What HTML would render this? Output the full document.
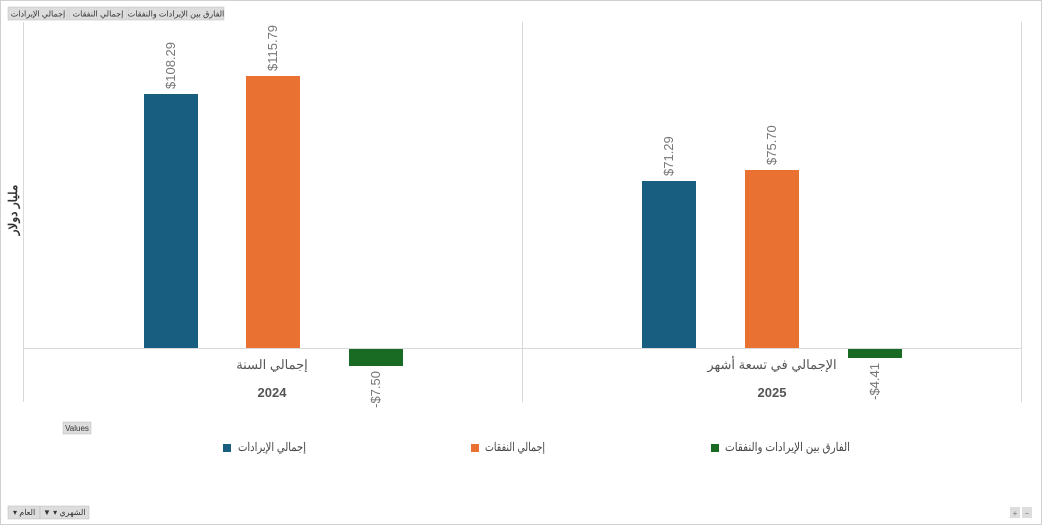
<!DOCTYPE html>
<html><head><meta charset="utf-8"><style>
body{margin:0;width:1042px;height:525px;background:#fff;font-family:"Liberation Sans","Noto Sans CJK SC",sans-serif;overflow:hidden}
</style></head><body>
<svg width="1042" height="525" xmlns="http://www.w3.org/2000/svg" font-family="Liberation Sans, Noto Sans CJK SC, sans-serif">
<rect x="0.5" y="0.5" width="1041" height="524" fill="#fff" stroke="#d0d0d0"/>
<g font-size="8" fill="#333">
<rect x="8" y="7" width="60" height="13" fill="#ddd" stroke="#bbb" stroke-width="0.5"/>
<text x="38" y="16.5" text-anchor="middle">إجمالي الإيرادات</text>
<rect x="69" y="7" width="58" height="13" fill="#ddd" stroke="#bbb" stroke-width="0.5"/>
<text x="98" y="16.5" text-anchor="middle">إجمالي النفقات</text>
<rect x="128" y="7" width="96" height="13" fill="#ddd" stroke="#bbb" stroke-width="0.5"/>
<text x="176" y="16.5" text-anchor="middle">الفارق بين الإيرادات والنفقات</text>
</g>
<line x1="23.5" y1="22" x2="23.5" y2="402" stroke="#d9d9d9"/>
<line x1="522.5" y1="22" x2="522.5" y2="402" stroke="#d9d9d9"/>
<line x1="1021.5" y1="22" x2="1021.5" y2="402" stroke="#d9d9d9"/>
<line x1="23" y1="348.5" x2="1021" y2="348.5" stroke="#d9d9d9"/>
<text transform="translate(17,210) rotate(-90)" font-size="12" font-weight="bold" fill="#333" text-anchor="middle">مليار دولار</text>
<rect x="144" y="94" width="54" height="254" fill="#175e80"/>
<rect x="246" y="76" width="54" height="272" fill="#e97132"/>
<rect x="349" y="349" width="54" height="17" fill="#196b24"/>
<rect x="642" y="181" width="54" height="167" fill="#175e80"/>
<rect x="745" y="170" width="54" height="178" fill="#e97132"/>
<rect x="848" y="349" width="54" height="9" fill="#196b24"/>
<g font-size="13" fill="#777">
<text transform="translate(175,89) rotate(-90)">$108.29</text>
<text transform="translate(277,71) rotate(-90)">$115.79</text>
<text transform="translate(380,371) rotate(-90)" text-anchor="end">-$7.50</text>
<text transform="translate(673,176) rotate(-90)">$71.29</text>
<text transform="translate(776,165) rotate(-90)">$75.70</text>
<text transform="translate(879,363) rotate(-90)" text-anchor="end">-$4.41</text>
</g>
<g font-size="13" fill="#555" text-anchor="middle">
<text x="272" y="369">إجمالي السنة</text>
<text x="272" y="397" font-weight="bold">2024</text>
<text x="772" y="369">الإجمالي في تسعة أشهر</text>
<text x="772" y="397" font-weight="bold">2025</text>
</g>
<rect x="63" y="422" width="28" height="12" fill="#ddd" stroke="#bbb" stroke-width="0.5"/>
<text x="77" y="431" font-size="8" fill="#333" text-anchor="middle">Values</text>
<g font-size="12" fill="#444">
<rect x="223" y="444" width="8" height="8" fill="#175e80"/>
<text x="306" y="451" text-anchor="end" textLength="68" lengthAdjust="spacingAndGlyphs">إجمالي الإيرادات</text>
<rect x="471" y="444" width="8" height="8" fill="#e97132"/>
<text x="545" y="451" text-anchor="end" textLength="60" lengthAdjust="spacingAndGlyphs">إجمالي النفقات</text>
<rect x="711" y="444" width="8" height="8" fill="#196b24"/>
<text x="850" y="451" text-anchor="end" textLength="125" lengthAdjust="spacingAndGlyphs">الفارق بين الإيرادات والنفقات</text>
</g>
<g font-size="8" fill="#333">
<rect x="8" y="506" width="32" height="13" fill="#ddd" stroke="#bbb" stroke-width="0.5"/>
<text x="13" y="515">▾ العام</text>
<rect x="40" y="506" width="49" height="13" fill="#ddd" stroke="#bbb" stroke-width="0.5"/>
<text x="43" y="515">▼ ▾ الشهري</text>
<rect x="1010" y="507" width="10" height="11" fill="#ddd"/>
<rect x="1022" y="507" width="10" height="11" fill="#ddd"/>
<text x="1015" y="516" text-anchor="middle" fill="#777">+</text>
<text x="1027" y="516" text-anchor="middle" fill="#777">−</text>
</g>
</svg>
</body></html>
